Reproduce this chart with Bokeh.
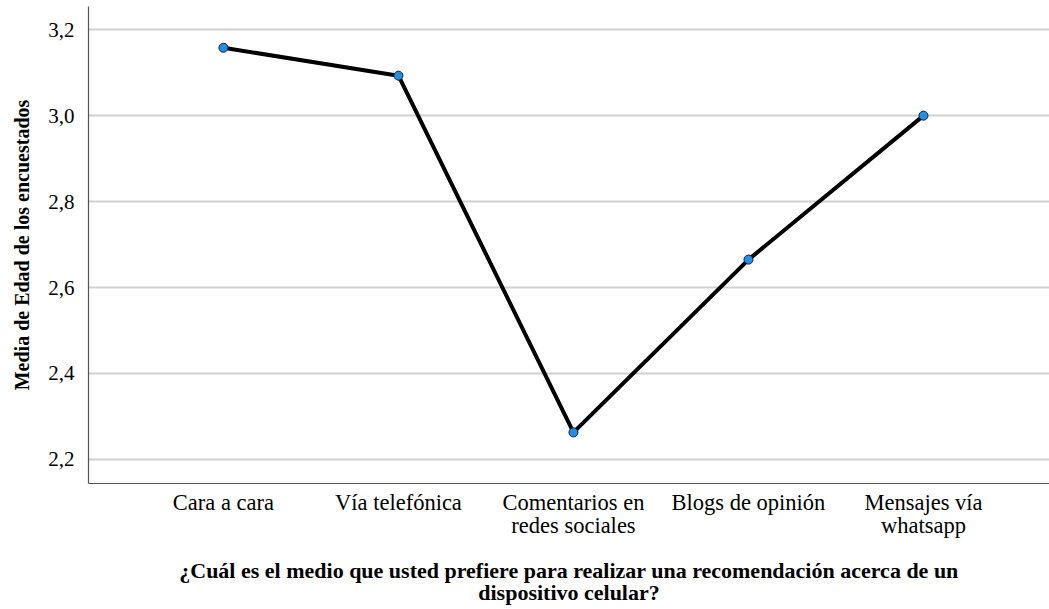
from bokeh.plotting import figure
from bokeh.models import FixedTicker, CustomJSTickFormatter, Range1d
from bokeh.embed import file_html
from bokeh.resources import INLINE

categories = ["Cara a cara", "Vía telefónica", "Comentarios en\nredes sociales",
              "Blogs de opinión", "Mensajes vía\nwhatsapp"]
means = [3.158, 3.093, 2.263, 2.665, 3.000]
y_ticks = [2.2, 2.4, 2.6, 2.8, 3.0, 3.2]
y_label = "Media de Edad de los encuestados"
x_title = ("¿Cuál es el medio que usted prefiere para realizar una recomendación acerca de un\n"
           "dispositivo celular?")

FONT = "Liberation Serif"
xs = list(range(len(categories)))

p = figure(width=1049, height=609, output_backend="svg", toolbar_location=None,
           x_range=Range1d(-0.771, 4.72), y_range=Range1d(2.144, 3.254),
           min_border_left=88, min_border_right=0, min_border_top=6, min_border_bottom=126)
p.outline_line_color = None
p.background_fill_color = "white"

p.line(xs, means, line_color="black", line_width=4)
p.scatter(xs, means, size=9, fill_color="#1e90e8", line_color="#1a1a3a", line_width=1)

p.xgrid.visible = False
p.ygrid.ticker = FixedTicker(ticks=y_ticks)
p.ygrid.grid_line_color = "#d0d0d0"
p.ygrid.grid_line_width = 2

p.yaxis.ticker = FixedTicker(ticks=y_ticks)
p.yaxis.formatter = CustomJSTickFormatter(code="return tick.toFixed(1).replace('.', ',');")
p.xaxis.ticker = FixedTicker(ticks=xs)
p.xaxis.formatter = CustomJSTickFormatter(args=dict(labels=categories),
                                          code="return labels[Math.round(tick)];")
for ax in (p.xaxis[0], p.yaxis[0]):
    ax.major_tick_line_color = None
    ax.minor_tick_line_color = None
    ax.axis_line_color = "#555555"
    ax.axis_line_width = 1.2
    ax.major_label_text_font = FONT
    ax.major_label_text_color = "black"
    ax.axis_label_text_font = FONT
    ax.axis_label_text_font_style = "bold"
    ax.axis_label_text_color = "black"

p.xaxis.major_label_text_font_size = "22.5px"
p.xaxis.major_label_text_line_height = 0.95
p.yaxis.major_label_text_font_size = "21px"
p.yaxis.major_label_standoff = 8
p.xaxis.major_label_standoff = 0
p.yaxis.axis_label = y_label
p.yaxis.axis_label_text_font_size = "20px"
p.yaxis.axis_label_standoff = 12
p.xaxis.axis_label = x_title
p.xaxis.axis_label_text_font_size = "22px"
p.xaxis.axis_label_standoff = 17
p.xaxis.axis_label_text_line_height = 0.85

open("out.html", "w").write(file_html(p, INLINE))
